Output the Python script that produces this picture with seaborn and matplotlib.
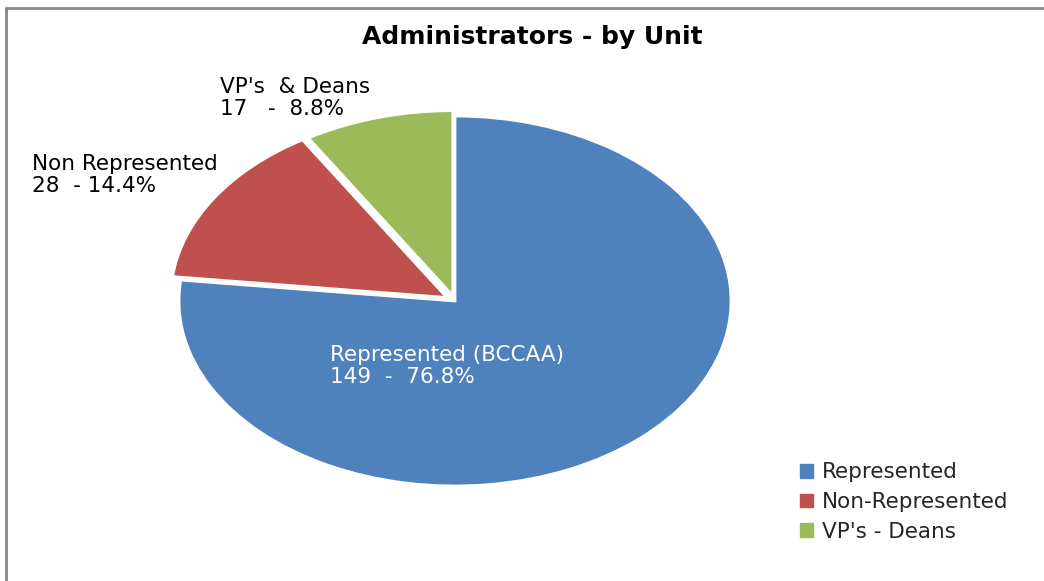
import matplotlib
matplotlib.use("Agg")
import matplotlib.pyplot as plt
from matplotlib.lines import Line2D
import seaborn as sns

# data
units = ["Represented", "Non-Represented", "VP's - Deans"]
counts = [149, 28, 17]
slice_labels = ["Represented (BCCAA)\n149  -  76.8%", "Non Represented\n28  - 14.4%", "VP's  & Deans\n17   -  8.8%"]
colors = ["#4F81BD", "#C0504D", "#9BBB59"]

sns.set_theme(style="white")
plt.rcParams['font.family'] = ['DejaVu Sans']

W, H = 1044, 581
fig = plt.figure(figsize=(W / 100, H / 100), dpi=100)
ax = fig.add_axes([0, 0, 1, 1])

wedges, _ = ax.pie(counts, colors=colors, startangle=90, counterclock=False,
                   explode=[0, 0.035, 0.03],
                   wedgeprops=dict(edgecolor="white", linewidth=2))

# stretch the pie into an ellipse (centre ~ (455, 301) px, radii 276 x 185 px)
cx, cy, rx, ry = 455, 301, 276, 185
ax.set_aspect("auto")
ax.set_xlim(-cx / rx, (W - cx) / rx)
ax.set_ylim(-(H - cy) / ry, cy / ry)
ax.axis("off")

def px(x, y):
    return x / W, 1 - y / H

fig.text(*px(532, 37), "Administrators - by Unit", ha="center", va="center",
         fontsize=18, fontweight="bold", color="black")

lab_kw = dict(ha="left", va="center", fontsize=15.5, linespacing=1.15)
fig.text(*px(330, 366), slice_labels[0], color="white", **lab_kw)
fig.text(*px(32, 175), slice_labels[1], color="black", **lab_kw)
fig.text(*px(220, 98), slice_labels[2], color="black", **lab_kw)

handles = [plt.Rectangle((0, 0), 1, 1, color=c) for c in colors]
fig.legend(handles, units, loc="upper left", bbox_to_anchor=px(781, 443),
           frameon=False, fontsize=15.5, handlelength=0.6, handleheight=0.6,
           handletextpad=0.4, labelspacing=0.45)

# chart border
fig.add_artist(Line2D([5.5 / W, 5.5 / W], [0, 1 - 7.5 / H], transform=fig.transFigure,
                      color="#888888", lw=2))
fig.add_artist(Line2D([5.5 / W, 1], [1 - 7.5 / H, 1 - 7.5 / H], transform=fig.transFigure,
                      color="#888888", lw=2))

fig.savefig("out.png", dpi=100, facecolor="white")
